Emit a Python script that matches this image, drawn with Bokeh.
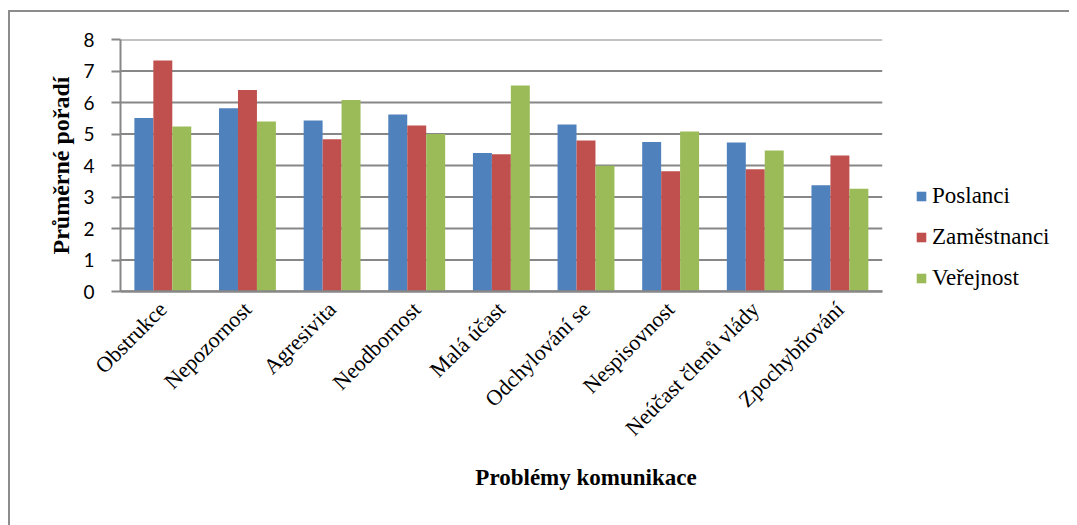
import math
from bokeh.plotting import figure
from bokeh.models import (ColumnDataSource, FactorRange, Legend, LegendItem,
                          FixedTicker, CategoricalAxis)
from bokeh.transform import dodge
from bokeh.embed import file_html
from bokeh.resources import INLINE

# ---- data ----
categories = ["Obstrukce", "Nepozornost", "Agresivita", "Neodbornost", "Malá účast",
              "Odchylování se", "Nespisovnost", "Neúčast členů vlády", "Zpochybňování"]
poslanci = [5.51, 5.82, 5.43, 5.62, 4.40, 5.30, 4.75, 4.73, 3.37]
zamestnanci = [7.33, 6.40, 4.83, 5.27, 4.36, 4.79, 3.82, 3.88, 4.32]
verejnost = [5.24, 5.40, 6.08, 5.00, 6.54, 3.99, 5.08, 4.48, 3.26]
series_names = ["Poslanci", "Zaměstnanci", "Veřejnost"]
y_ticks = [0, 1, 2, 3, 4, 5, 6, 7, 8]
title_text = "Graf č. 6: Problémy komunikace poslanců během jednání Poslanecké sněmovny"
y_title = "Průměrné pořadí"
x_title = "Problémy komunikace"

colors = ["#4F81BD", "#C0504D", "#9BBB59"]
grid_col = "#878787"
border_col = "#8c8c8c"

n_cat = len(categories)
# two empty slots on the right leave room for the legend inside the plot frame
x_factors = categories + [" ", "  "]

src = ColumnDataSource(dict(cat=categories, s0=poslanci, s1=zamestnanci, s2=verejnost))
grid_src = ColumnDataSource(dict(x0=[0] * len(y_ticks), x1=[n_cat] * len(y_ticks),
                                 y=y_ticks))

p = figure(x_range=FactorRange(*x_factors, range_padding=0), y_range=(0, 8),
           width=1069, height=525, output_backend="svg", toolbar_location=None,
           min_border_left=120, min_border_right=18, min_border_top=39,
           min_border_bottom=234)
p.styles = {
    "background-color": "white",
    "background-image": f"linear-gradient({border_col}, {border_col}), linear-gradient({border_col}, {border_col})",
    "background-size": "2px 100%, 100% 2px",
    "background-position": "8px 10px, 8px 10px",
    "background-repeat": "no-repeat",
}
p.outline_line_color = None
p.background_fill_color = "white"
p.border_fill_alpha = 0

# horizontal gridlines only across the category area
p.segment(x0="x0", x1="x1", y0="y", y1="y", source=grid_src,
          line_color=grid_col, line_width=2)

bw = 0.224
renderers = []
for i, key in enumerate(["s0", "s1", "s2"]):
    r = p.vbar(x=dodge("cat", (i - 1) * bw, range=p.x_range), top=key, width=bw,
               source=src, fill_color=colors[i], line_color=None)
    renderers.append(r)

p.xgrid.grid_line_color = None
p.ygrid.grid_line_color = None

# y axis
p.yaxis.ticker = FixedTicker(ticks=y_ticks)
p.yaxis.axis_line_color = grid_col
p.yaxis.axis_line_width = 2
p.yaxis.major_tick_line_color = grid_col
p.yaxis.major_tick_line_width = 2
p.yaxis.major_tick_out = 9
p.yaxis.major_tick_in = 0
p.yaxis.minor_tick_line_color = None
p.yaxis.major_label_text_font = "Lato"
p.yaxis.major_label_text_font_size = "19px"
p.yaxis.major_label_text_color = "black"
p.yaxis.major_label_standoff = 17
p.yaxis.axis_label = y_title
p.yaxis.axis_label_text_font = "Liberation Serif"
p.yaxis.axis_label_text_font_style = "bold"
p.yaxis.axis_label_text_font_size = "24px"
p.yaxis.axis_label_text_color = "black"
p.yaxis.axis_label_standoff = 6

# x axis (limited to the categories)
p.xaxis.bounds = (0, n_cat)
p.xaxis.axis_line_color = grid_col
p.xaxis.axis_line_width = 2.5
p.xaxis.major_tick_line_color = None
p.xaxis.minor_tick_line_color = None
p.xaxis.major_label_orientation = math.pi / 4
p.xaxis.major_label_text_font = "Liberation Serif"
p.xaxis.major_label_text_font_size = "22px"
p.xaxis.major_label_text_color = "black"
p.xaxis.major_label_standoff = 8
p.xaxis.axis_label = x_title
p.xaxis.axis_label_text_font = "Liberation Serif"
p.xaxis.axis_label_text_font_style = "bold"
p.xaxis.axis_label_text_font_size = "23px"
p.xaxis.axis_label_text_color = "black"
p.xaxis.axis_label_standoff = 13

# title: a categorical axis pinned at the top edge (cut off like the reference);
# blank slots only shift the title sideways
title_slots = [" " * (k + 1) for k in range(5)] + [title_text] + [" " * (k + 6) for k in range(6)]
p.extra_x_ranges = {"title": FactorRange(*title_slots, range_padding=0)}
title_axis = CategoricalAxis(x_range_name="title", fixed_location=8.81,
                             axis_line_color=None, major_tick_line_color=None,
                             minor_tick_line_color=None, major_tick_out=0, major_tick_in=0,
                             major_label_standoff=0,
                             major_label_text_font="Liberation Serif",
                             major_label_text_font_style="italic",
                             major_label_text_font_size="29px",
                             major_label_text_color="black")
p.add_layout(title_axis, "above")

legend = Legend(items=[LegendItem(label=series_names[i], renderers=[renderers[i]])
                       for i in range(3)],
                location=(795, 0), padding=0, margin=0, spacing=15,
                glyph_width=12, glyph_height=12, label_standoff=5,
                label_text_font="Liberation Serif", label_text_font_size="23px",
                label_text_color="black", border_line_color=None,
                background_fill_alpha=0)
p.add_layout(legend)

open("out.html", "w").write(file_html(p, INLINE))
